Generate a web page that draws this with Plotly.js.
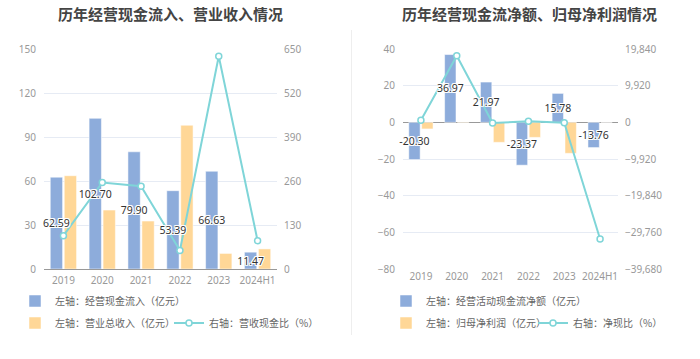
<!DOCTYPE html>
<html><head><meta charset="utf-8">
<script src="https://cdn.plot.ly/plotly-3.0.1.min.js"></script>
<style>html,body{margin:0;padding:0;background:#fff;}#chart{width:700px;height:359px;}</style>
</head><body><div id="chart"></div>
<script>
const years = ['2019','2020','2021','2022','2023','2024H1'];
// left chart
const cashInflow = [62.59, 102.70, 79.90, 53.39, 66.63, 11.47];
const revenue = [63.6, 40.2, 32.7, 98.0, 10.6, 13.7];
const cashRevRatio = [98.4, 255.5, 244.3, 54.5, 628.6, 83.7];
// right chart
const netCashFlow = [-20.30, 36.97, 21.97, -23.37, 15.78, -13.76];
const netProfit = [-3.6, 0.2, -10.9, -8.2, -16.9, 0.04];
const netCashRatio = [563.9, 18034, -201.6, 285.0, -93.4, -31560];

const leftTicks = [0,30,60,90,120,150];
const leftTicks2 = [0,130,260,390,520,650];
const rightTicks = [-80,-60,-40,-20,0,20,40];
const rightTicks2 = [-39680,-29760,-19840,-9920,0,9920,19840];

const FONT = '"Noto Sans", "Noto Sans CJK SC", sans-serif';
const CJK = '"Noto Sans CJK SC", "Noto Sans", sans-serif';
const BLUE = '#8dacdb', ORANGE = '#ffd797', TEAL = '#7fd5d8';
const labelFont = {family: FONT, size: 10.5, color: '#333',
  shadow: '1px 0 0 #fff, -1px 0 0 #fff, 0 1px 0 #fff, 0 -1px 0 #fff, 1px 1px 0 #fff, -1px -1px 0 #fff, 1px -1px 0 #fff, -1px 1px 0 #fff'};
const fmt2 = a => a.map(v => v.toFixed(2));
const CLEAR = 'rgba(0,0,0,0)';

const lineStyle = {line:{color:TEAL, width:2}, marker:{symbol:'circle', size:6, color:'#fff', line:{color:TEAL, width:1.5}}};

const traces = [
  // left chart
  {type:'bar', x:years, y:cashInflow, name:'左轴：经营现金流入（亿元）', xaxis:'x', yaxis:'y',
   marker:{color:BLUE, line:{color:'#fff', width:0.5}}, legend:'legend'},
  {type:'bar', x:years, y:revenue, name:'左轴：营业总收入（亿元）', xaxis:'x', yaxis:'y',
   marker:{color:ORANGE, line:{color:'#fff', width:0.5}}, legend:'legend2'},
  Object.assign({type:'scatter', mode:'lines+markers', x:years, y:cashRevRatio, name:'右轴：营收现金比（%）',
   xaxis:'x', yaxis:'y2', legend:'legend5'}, lineStyle),
  // label layer (left)
  {type:'bar', x:years, y:cashInflow, xaxis:'x', yaxis:'y5', showlegend:false, marker:{color:CLEAR},
   text:fmt2(cashInflow), textposition:'inside', textangle:0, insidetextanchor:'middle', constraintext:'none',
   textfont:labelFont, cliponaxis:false},
  {type:'bar', x:years, y:revenue, xaxis:'x', yaxis:'y5', showlegend:false, marker:{color:CLEAR}},
  // right chart
  {type:'bar', x:years, y:netCashFlow, name:'左轴：经营活动现金流净额（亿元）', xaxis:'x2', yaxis:'y3',
   marker:{color:BLUE, line:{color:'#fff', width:0.5}}, legend:'legend3'},
  {type:'bar', x:years, y:netProfit, name:'左轴：归母净利润（亿元）', xaxis:'x2', yaxis:'y3',
   marker:{color:ORANGE, line:{color:'#fff', width:0.5}}, legend:'legend4'},
  Object.assign({type:'scatter', mode:'lines+markers', x:years, y:netCashRatio, name:'右轴：净现比（%）',
   xaxis:'x2', yaxis:'y4', legend:'legend6'}, lineStyle),
  // label layer (right)
  {type:'bar', x:years, y:netCashFlow, xaxis:'x2', yaxis:'y6', showlegend:false, marker:{color:CLEAR},
   text:fmt2(netCashFlow), textposition:'inside', textangle:0, insidetextanchor:'middle', constraintext:'none',
   textfont:labelFont, cliponaxis:false},
  {type:'bar', x:years, y:netProfit, xaxis:'x2', yaxis:'y6', showlegend:false, marker:{color:CLEAR}}
];

const tickFont = {family: FONT, size: 10, color: '#999'};
const gridC = '#e6ebf4';
const yTop = 1 - 49/359, yBot = 1 - 269/359;
const legFont = {family: CJK, size: 10, color: '#666'};
const leg = (x, y) => ({x:x, y:y, xanchor:'left', yanchor:'middle', orientation:'h', font:legFont,
  bgcolor:CLEAR, itemclick:false, traceorder:'normal', tracegroupgap:0, visible:true});

const layout = {
  width:700, height:359, margin:{l:0,r:0,t:0,b:0}, paper_bgcolor:'#fff', plot_bgcolor:'#fff',
  font:{family:FONT}, barmode:'group', bargap:0.28, bargroupgap:0.12, hovermode:false, showlegend:true,
  xaxis:{domain:[44/700, 277/700], anchor:'y', type:'category', tickfont:tickFont, showline:true, tickangle:0,
    linecolor:'#999', linewidth:1, showgrid:false, ticks:'', ticklabelstandoff:2},
  yaxis:{domain:[yBot, yTop], anchor:'x', range:[0,150], tickvals:leftTicks, tickfont:tickFont,
    gridcolor:gridC, zeroline:false, showline:false, ticklabelstandoff:7},
  yaxis2:{overlaying:'y', side:'right', anchor:'x', range:[0,650], tickvals:leftTicks2, tickfont:tickFont,
    showgrid:false, zeroline:false, showline:false, ticklabelstandoff:6},
  yaxis5:{overlaying:'y', anchor:'x', range:[0,150], visible:false},
  xaxis2:{domain:[403/700, 618/700], anchor:'y3', type:'category', tickfont:tickFont, showline:false, tickangle:0,
    showgrid:false, ticks:''},
  yaxis3:{domain:[yBot, yTop], anchor:'x2', range:[-80,40], tickvals:rightTicks, tickfont:tickFont,
    gridcolor:gridC, zeroline:true, zerolinecolor:'#999', zerolinewidth:1, showline:false, ticklabelstandoff:7},
  yaxis4:{overlaying:'y3', side:'right', anchor:'x2', range:[-39680,19840], tickvals:rightTicks2,
    tickformat:',d', tickfont:tickFont, showgrid:false, zeroline:false, showline:false, ticklabelstandoff:6},
  yaxis6:{overlaying:'y3', anchor:'x2', range:[-80,40], visible:false},
  legend:leg(15/700, 1 - 301/359),
  legend2:leg(15/700, 1 - 323/359),
  legend5:leg(169/700, 1 - 323/359),
  legend3:leg(386/700, 1 - 301/359),
  legend4:leg(386/700, 1 - 323/359),
  legend6:leg(533/700, 1 - 323/359),
  annotations:[
    {text:'<b>历年经营现金流入、营业收入情况</b>', xref:'paper', yref:'paper', x:170/700, y:1-13/359,
     xanchor:'center', yanchor:'middle', showarrow:false, font:{family:CJK, size:15, color:'#444'}},
    {text:'<b>历年经营现金流净额、归母净利润情况</b>', xref:'paper', yref:'paper', x:529/700, y:1-13/359,
     xanchor:'center', yanchor:'middle', showarrow:false, font:{family:CJK, size:15, color:'#444'}}
  ],
  shapes:[
    {type:'line', xref:'paper', yref:'paper', x0:351.5/700, x1:351.5/700, y0:1-30/359, y1:1-335/359,
     line:{color:'#eeeeee', width:1}}
  ]
};
Plotly.newPlot('chart', traces, layout, {staticPlot:true, displayModeBar:false});
</script></body></html>
